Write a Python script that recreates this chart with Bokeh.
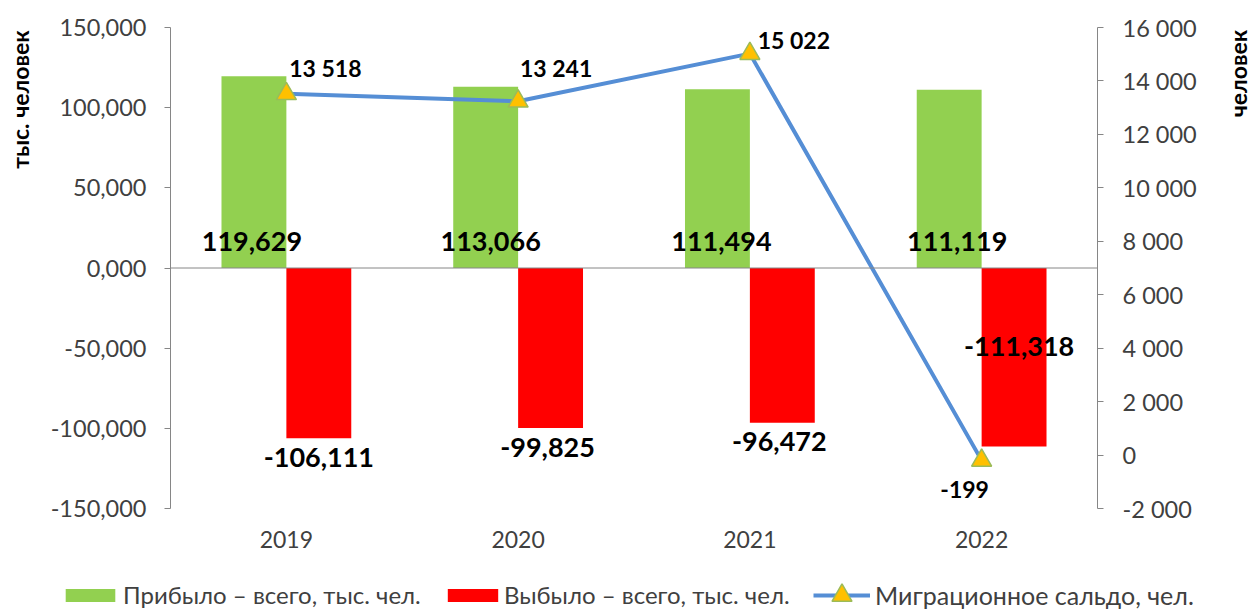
import math
from bokeh.plotting import figure
from bokeh.layouts import row
from bokeh.models import (Range1d, LinearAxis, FactorRange, ColumnDataSource, Span, Label,
                          Legend, LegendItem, FixedTicker, CustomJSTickFormatter)
from bokeh.transform import dodge
from bokeh.core.properties import value
from bokeh.embed import file_html
from bokeh.resources import INLINE

# ---------------- data ----------------
years = ["2019", "2020", "2021", "2022"]
arrived = [119.629, 113.066, 111.494, 111.119]        # тыс. чел.
departed = [-106.111, -99.825, -96.472, -111.318]     # тыс. чел.
balance = [13518, 13241, 15022, -199]                 # чел.
left_ticks = [-150, -100, -50, 0, 50, 100, 150]
right_ticks = [-2000, 0, 2000, 4000, 6000, 8000, 10000, 12000, 14000, 16000]

name_arrived = "Прибыло – всего, тыс. чел."
name_departed = "Выбыло – всего, тыс. чел."
name_balance = "Миграционное сальдо, чел."
title_left = "тыс. человек"
title_right = "человек"

# ---------------- label offsets (screen px, styling only) ----------------
green_dx = [-2, 5, 4, 8]
red_dx = [0, -3, -3, 5]
red_dy = [19, 19, 19, -100]
line_dx = [39, 38, 44, -17]
line_dy = [-26, -33, -14, 29]

FONT = "Lato"
GREEN = "#92D050"
RED = "#FF0000"
BLUE = "#558ED5"
AXIS = "#868686"
TXT = "#404040"

SIDE_W = 40          # width of the strips that carry the axis titles
TOP, BOTTOM = 27, 67  # borders of the plot area

src = ColumnDataSource(dict(
    year=years, arrived=arrived, departed=departed, balance=balance,
    arrived_lbl=[f"{v:.3f}".replace(".", ",") for v in arrived],
    departed_lbl=[f"{v:.3f}".replace(".", ",") for v in departed],
    balance_lbl=[f"{v:,}".replace(",", " ") for v in balance],
    green_dx=green_dx, red_dx=red_dx, red_dy=red_dy, line_dx=line_dx, line_dy=line_dy,
))

p = figure(x_range=FactorRange(*years), y_range=Range1d(-150, 150),
           width=1253 - 2 * SIDE_W, height=575, output_backend="svg", toolbar_location=None,
           min_border_left=170 - SIDE_W, min_border_right=156 - SIDE_W,
           min_border_top=TOP, min_border_bottom=BOTTOM)
p.extra_y_ranges = {"right": Range1d(-2000, 16000)}
p.xgrid.visible = False
p.ygrid.visible = False
p.outline_line_color = None
p.background_fill_color = "white"


def style_axis(ax, standoff, size="23.5px"):
    ax.axis_line_color = AXIS
    ax.major_tick_line_color = AXIS
    ax.major_tick_in = 0
    ax.major_tick_out = 6
    ax.minor_tick_line_color = None
    ax.major_label_standoff = standoff
    ax.major_label_text_font = FONT
    ax.major_label_text_font_size = size
    ax.major_label_text_color = TXT


# left axis
ya = p.yaxis[0]
ya.ticker = FixedTicker(ticks=left_ticks)
ya.formatter = CustomJSTickFormatter(code="return tick.toFixed(3).replace('.', ',');")
style_axis(ya, 18)

# right axis
ra = LinearAxis(y_range_name="right", ticker=FixedTicker(ticks=right_ticks),
                formatter=CustomJSTickFormatter(
                    code="return Math.round(tick).toString().replace(/\\B(?=(\\d{3})+(?!\\d))/g, ' ');"))
style_axis(ra, 19)
p.add_layout(ra, "right")

# category axis
xa = p.xaxis[0]
xa.axis_line_color = None
xa.major_tick_line_color = None
xa.major_tick_in = 0
xa.major_tick_out = 0
xa.minor_tick_line_color = None
xa.major_label_standoff = 22
xa.major_label_text_font = FONT
xa.major_label_text_font_size = "23px"
xa.major_label_text_color = TXT

# bars
bar_kw = dict(bottom=0, width=0.28, line_color=None, source=src)
p.vbar(x=dodge("year", -0.14, range=p.x_range), top="arrived", fill_color=GREEN, **bar_kw)
p.vbar(x=dodge("year", 0.14, range=p.x_range), top="departed", fill_color=RED, **bar_kw)

p.add_layout(Span(location=0, dimension="width", line_color=AXIS, line_width=1))

# line
line_kw = dict(line_width=4, line_color=BLUE)
tri_kw = dict(marker="triangle", size=20, fill_color="#FFC000", line_color="#9BBB59", line_width=1.5)
p.line(x="year", y="balance", y_range_name="right", source=src, **line_kw)
p.scatter(x="year", y="balance", y_range_name="right", source=src, **tri_kw)

# data labels
common = dict(text_font=value(FONT), text_font_style="bold", text_color="black",
              text_align="center", text_baseline="middle", source=src)
p.text(x=dodge("year", -0.14, range=p.x_range), y=0, text="arrived_lbl",
       x_offset="green_dx", y_offset=-27, text_font_size="27px", **common)
p.text(x=dodge("year", 0.14, range=p.x_range), y="departed", text="departed_lbl",
       x_offset="red_dx", y_offset="red_dy", text_font_size="27px", **common)
p.text(x="year", y="balance", y_range_name="right", text="balance_lbl",
       x_offset="line_dx", y_offset="line_dy", text_font_size="23px", **common)


# ---------------- side strips with the axis titles ----------------
def side_strip(text, sx, sy, size):
    s = figure(width=SIDE_W, height=575, x_range=Range1d(0, 1), y_range=Range1d(-150, 150),
               output_backend="svg", toolbar_location=None,
               x_axis_location=None, y_axis_location=None,
               min_border_left=0, min_border_right=0, min_border_top=TOP, min_border_bottom=BOTTOM)
    s.outline_line_color = None
    s.grid.visible = False
    s.add_layout(Label(x=sx, y=sy, x_units="screen", y_units="screen", text=text,
                       angle=math.pi / 2, text_align="center", text_baseline="middle",
                       text_font=FONT, text_font_style="bold", text_font_size=size,
                       text_color="black"))
    return s


left_strip = side_strip(title_left, 19, 409, "23px")
right_strip = side_strip(title_right, 24, 435, "23px")

top = row(left_strip, p, right_strip, spacing=0)

# ---------------- legend strip (same series, drawn outside the strip's view) ----------------
lg = figure(x_range=FactorRange(*years), y_range=Range1d(1e6, 1e6 + 1),
            width=1253, height=35, output_backend="svg", toolbar_location=None,
            x_axis_location=None, y_axis_location=None, min_border=0)
lg.outline_line_color = None
lg.grid.visible = False
lg_g = lg.vbar(x="year", top="arrived", fill_color=GREEN, **bar_kw)
lg_r = lg.vbar(x="year", top="departed", fill_color=RED, **bar_kw)
lg_l = lg.line(x="year", y="balance", source=src, **line_kw)
lg_s = lg.scatter(x="year", y="balance", source=src, **tri_kw)

leg_common = dict(orientation="horizontal", padding=0, margin=0, spacing=0,
                  border_line_color=None, background_fill_alpha=0,
                  label_text_font=FONT, label_text_color=TXT, label_height=20)
lg.add_layout(Legend(items=[LegendItem(label=name_arrived, renderers=[lg_g])],
                     location=(59, 1), glyph_width=62, glyph_height=16,
                     label_standoff=2, label_text_font_size="24px", **leg_common), "center")
lg.add_layout(Legend(items=[LegendItem(label=name_departed, renderers=[lg_r])],
                     location=(441, 1), glyph_width=63, glyph_height=16,
                     label_standoff=0, label_text_font_size="24px", **leg_common), "center")
lg.add_layout(Legend(items=[LegendItem(label=name_balance, renderers=[lg_l, lg_s])],
                     location=(813, -10), glyph_width=57, glyph_height=50,
                     label_standoff=5, label_text_font_size="25px", **leg_common), "center")

open("out.html", "w").write(file_html([top, lg], INLINE))
